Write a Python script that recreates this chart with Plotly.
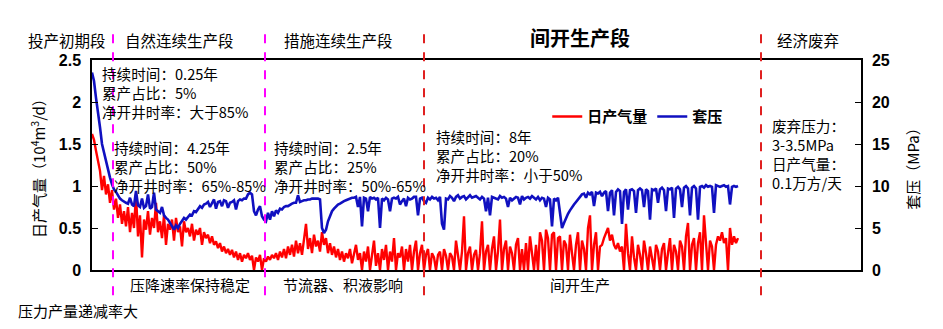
import plotly.graph_objects as go

# Casing pressure (MPa), sampled along the production history
casing_pressure = [
    23.5,22.5,20.5,19,17,15,14,12.8,11.9,11, 10.2,9.6,9.3,8.8,8.5,8.3,8.1,8.0,7.9,8.6,
    7.8,7.6,9.4,7.7,7.5,8.5,7.4,7.6,9.0,7.3, 7.5,9.2,7.2,7.0,6.8,7.5,6.5,6.2,6.0,5.6,
    5.2,4.8,5.3,5.0,5.5,5.8,6.2,6.0,6.3,6.6, 6.5,7.0,6.9,7.2,7.6,7.4,7.8,7.9,8.1,7.5,
    8.0,8.4,7.3,8.1,8.2,7.6,8.3,8.2,7.4,8.0, 8.1,8.3,7.2,8.2,8.4,8.3,8.5,8.5,9.0,9.2,
    9.0,7.0,6.5,7.2,7.6,6.4,6.0,5.8,6.8,6.0, 7.0,6.4,7.1,6.8,7.3,7.2,7.5,7.6,7.6,7.8,
    7.9,8.0,8.0,8.9,8.1,8.2,8.3,8.3,8.4,8.4, 8.5,8.5,8.5,8.5,8.4,5.0,4.4,4.8,5.8,6.5,
    7.0,7.3,7.6,7.8,7.9,8.1,8.2,8.3,8.4,8.5, 8.6,8.6,8.7,7.5,8.7,5.2,8.6,8.5,7.0,8.7,
    8.5,8.6,8.4,8.6,5.0,8.5,8.3,8.6,8.4,7.0, 8.5,8.6,8.5,8.7,7.8,8.2,8.5,7.6,8.6,8.4,
    8.5,8.7,8.7,6.5,8.5,8.6,8.2,8.0,8.6,8.4, 8.7,8.5,8.6,8.3,8.7,5.5,4.8,8.5,8.4,8.8,
    8.6,8.2,8.7,8.9,8.5,8.7,8.8,8.4,8.7,8.9, 8.6,8.7,8.8,8.6,8.4,8.7,8.5,7.0,8.6,6.5,
    8.7,8.6,8.5,8.4,8.8,8.6,8.7,8.5,7.5,8.6, 8.3,8.5,8.7,8.6,7.8,8.8,8.4,8.6,8.7,8.5,
    8.8,8.6,8.4,8.7,8.3,8.6,8.5,7.5,8.6,8.4, 5.2,8.5,8.3,8.6,7.0,5.0,5.6,6.2,6.7,7.1,
    7.5,7.8,8.1,8.4,8.8,9.0,9.1,8.6,9.2,9.0, 9.3,7.6,9.2,9.1,9.3,8.8,9.2,9.4,7.0,9.2,
    9.5,6.5,9.3,9.6,9.4,5.5,9.3,9.6,7.2,9.5, 9.6,9.4,6.8,9.5,9.7,9.5,7.5,9.6,9.4,6.0,
    9.6,9.5,9.7,8.0,9.6,9.8,9.5,7.0,9.7,9.6, 9.8,6.2,9.7,9.9,9.6,7.5,9.8,10.0,9.7,6.5,
    9.8,10.0,9.7,6.0,9.9,10.0,9.8,10.1,9.9,10.0, 9.9,6.8,10.1,10.0,9.9,10.0,10.1,9.9,10.0,7.8,
    9.9,10.0,9.9,10.0,
]

# Daily gas production (10^4 m3/d)
daily_gas = [
    1.62,1.55,1.42,1.30,1.18,0.95,1.12,0.90,1.02,0.80, 0.95,0.72,0.85,0.62,0.78,0.55,0.70,0.52,0.75,0.45,
    0.68,0.50,0.90,0.40,0.65,0.15,0.60,0.48,0.70,0.42, 0.62,0.50,0.80,0.45,0.58,0.38,0.65,0.30,0.55,0.48,
    0.60,0.35,0.62,0.45,0.52,0.28,0.58,0.45,0.50,0.40, 0.55,0.35,0.48,0.42,0.50,0.30,0.45,0.38,0.42,0.32,
    0.40,0.30,0.34,0.26,0.32,0.22,0.28,0.20,0.25,0.18, 0.24,0.15,0.22,0.12,0.20,0.10,0.18,0.14,0.20,0.12,
    0.17,0.0,0.15,0.10,0.18,0.0,0.14,0.10,0.16,0.12, 0.18,0.14,0.20,0.12,0.22,0.15,0.25,0.14,0.28,0.18,
    0.30,0.16,0.35,0.20,0.32,0.18,0.40,0.55,0.25,0.38, 0.20,0.42,0.28,0.35,0.22,0.45,0.30,0.38,0.20,0.32,
    0.18,0.28,0.15,0.25,0.12,0.22,0.10,0.20,0.14,0.25, 0.08,0.18,0.30,0.12,0.20,0.0,0.22,0.10,0.28,0.0,
    0.18,0.35,0.05,0.20,0.0,0.25,0.12,0.30,0.0,0.22, 0.10,0.38,0.0,0.20,0.15,0.28,0.0,0.25,0.10,0.30,
    0.0,0.22,0.35,0.0,0.20,0.30,0.0,0.18,0.25,0.0, 0.20,0.15,0.0,0.18,0.22,0.0,0.25,0.17,0.0,0.20,
    0.16,0.0,0.35,0.18,0.0,0.22,0.64,0.0,0.20,0.28, 0.0,0.18,0.24,0.0,0.20,0.58,0.0,0.22,0.30,0.0,
    0.25,0.40,0.0,0.22,0.60,0.0,0.25,0.35,0.0,0.28, 0.20,0.0,0.30,0.38,0.0,0.25,0.0,0.32,0.0,0.40,
    0.22,0.0,0.30,0.0,0.45,0.35,0.0,0.48,0.38,0.0, 0.42,0.45,0.0,0.38,0.40,0.0,0.35,0.30,0.0,0.42,
    0.20,0.0,0.30,0.45,0.0,0.35,0.25,0.0,0.50,0.65, 0.0,0.30,0.45,0.0,0.28,0.30,0.38,0.45,0.50,0.35,
    0.42,0.30,0.25,0.32,0.22,0.28,0.0,0.55,0.20,0.0, 0.40,0.15,0.0,0.30,0.18,0.0,0.35,0.20,0.0,0.28,
    0.15,0.0,0.30,0.22,0.0,0.25,0.32,0.0,0.20,0.38, 0.0,0.30,0.22,0.0,0.35,0.28,0.0,0.40,0.56,0.0,
    0.30,0.38,0.0,0.32,0.45,0.0,0.65,0.30,0.0,0.35, 0.28,0.0,0.30,0.40,0.35,0.45,0.32,0.38,0.0,0.50,
    0.30,0.40,0.32,0.38,
]

sample_index = list(range(len(daily_gas)))

# Stage boundaries (in sample index units) and their colours
stage_bounds = [10.5, 86.5, 166, 334.5]
stage_colors = ["#FF00FF", "#FF00FF", "#E02020", "#E02020"]

# Stage labels (paper x positions)
top_labels = ["投产初期段", "自然连续生产段", "措施连续生产段", "间开生产段", "经济废弃"]
top_label_x = [-0.0325, 0.1144, 0.3199, 0.6346, 0.931]
bottom_labels = ["压降速率保持稳定", "节流器、积液影响", "间开生产", "压力产量递减率大"]
bottom_label_x = [0.1274, 0.3264, 0.6346, -0.018]
bottom_label_y = [-0.067, -0.067, -0.067, -0.195]

blocks = [
    "持续时间：0.25年<br>累产占比：5%<br>净开井时率：大于85%",
    "持续时间：4.25年<br>累产占比：50%<br>净开井时率：65%-85%",
    "持续时间：2.5年<br>累产占比：25%<br>净开井时率：50%-65%",
    "持续时间：8年<br>累产占比：20%<br>净开井时率：小于50%",
    "废弃压力：<br>3-3.5MPa<br>日产气量：<br>0.1万方/天",
]
block_x = [0.0104, 0.0260, 0.2341, 0.4447, 0.8817]
block_y = [0.995, 0.645, 0.645, 0.695, 0.75]

FONT = "Noto Sans CJK SC"
RED = "#FF0000"
BLUE = "#1010C0"

fig = go.Figure()
fig.add_trace(go.Scatter(x=sample_index, y=daily_gas, name="日产气量", mode="lines",
                         line=dict(color=RED, width=2.4), yaxis="y"))
fig.add_trace(go.Scatter(x=sample_index, y=casing_pressure, name="套压", mode="lines",
                         line=dict(color=BLUE, width=2.6), yaxis="y2"))

shapes = []
for xb, c in zip(stage_bounds, stage_colors):
    shapes.append(dict(type="line", xref="x", yref="paper", x0=xb, x1=xb, y0=-0.12, y1=1.145,
                       line=dict(color=c, width=2, dash="dash")))

annotations = []
for t, xv in zip(top_labels, top_label_x):
    bold = t == "间开生产段"
    annotations.append(dict(text=f"<b>{t}</b>" if bold else t, x=xv,
                            y=1.105 if bold else 1.095,
                            xref="paper", yref="paper", xanchor="center", yanchor="middle",
                            showarrow=False,
                            font=dict(family=FONT, size=20 if bold else 15.5, color="black")))
for t, xv, yv in zip(bottom_labels, bottom_label_x, bottom_label_y):
    annotations.append(dict(text=t, x=xv, y=yv, xref="paper", yref="paper", xanchor="center",
                            yanchor="middle", showarrow=False,
                            font=dict(family=FONT, size=15, color="black")))
for t, xv, yv in zip(blocks, block_x, block_y):
    annotations.append(dict(text=t, x=xv, y=yv, xref="paper", yref="paper", xanchor="left",
                            yanchor="top", align="left", showarrow=False,
                            font=dict(family=FONT, size=14.6, color="black")))
annotations.append(dict(text="日产气量（10<sup>4</sup>m<sup>3</sup>/d）", x=-0.0702, y=0.5,
                        xref="paper", yref="paper", xanchor="center", yanchor="middle",
                        textangle=-90, showarrow=False,
                        font=dict(family=FONT, size=15, color="black")))
annotations.append(dict(text="套压（MPa）", x=1.066, y=0.5, xref="paper", yref="paper",
                        xanchor="center", yanchor="middle", textangle=-90, showarrow=False,
                        font=dict(family=FONT, size=15, color="black")))

fig.update_layout(
    width=943, height=329,
    margin=dict(l=92, r=82, t=60, b=59),
    paper_bgcolor="white", plot_bgcolor="white",
    showlegend=True,
    legend=dict(orientation="h", x=0.592, y=0.73, xanchor="left", yanchor="middle",
                font=dict(family=FONT, size=15, color="black", weight="bold"),
                bgcolor="rgba(0,0,0,0)", tracegroupgap=0),
    xaxis=dict(range=[0, 384.5], showline=True, linecolor="black", linewidth=1.5, mirror=True,
               showticklabels=False, ticks="", showgrid=False, zeroline=False),
    yaxis=dict(range=[0, 2.5], dtick=0.5, showline=True, linecolor="black", linewidth=1.5,
               ticks="inside", ticklen=6, tickcolor="black", showgrid=False, zeroline=False,
               tickformat=".1~f", ticklabelstandoff=6,
               tickfont=dict(family="Liberation Sans", size=16, color="black", weight="bold")),
    yaxis2=dict(range=[0, 25], dtick=5, overlaying="y", side="right", showline=True,
                linecolor="black", linewidth=1.5, ticks="inside", ticklen=6, tickcolor="black",
                showgrid=False, zeroline=False, ticklabelstandoff=6,
                tickfont=dict(family="Liberation Sans", size=16, color="black", weight="bold")),
    shapes=shapes,
    annotations=annotations,
)

fig.write_html("out.html")
